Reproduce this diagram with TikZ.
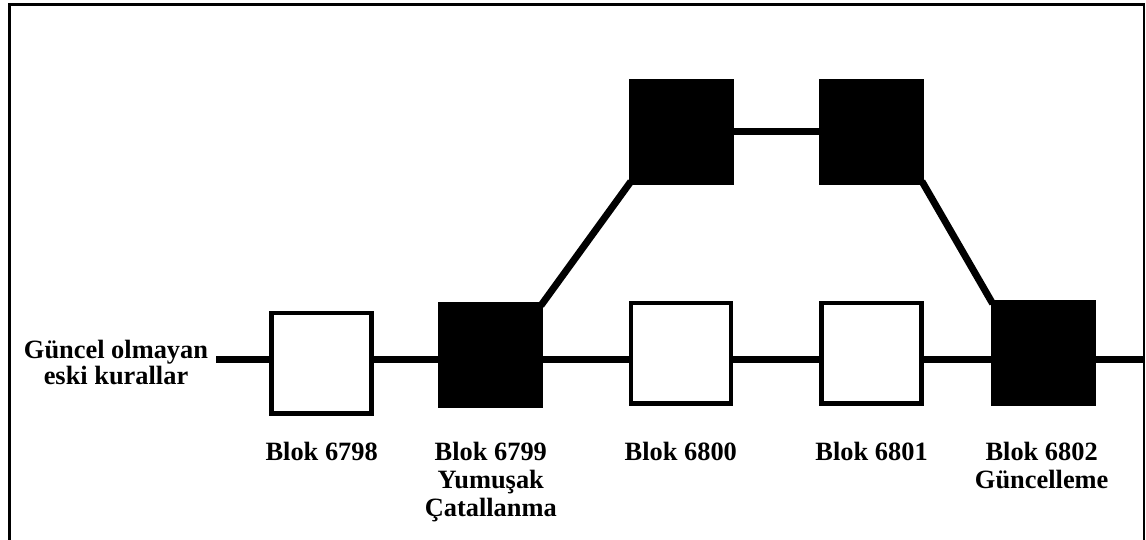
\documentclass[tikz,border=0pt]{standalone}
\usepackage{fontspec}
\setmainfont{Liberation Serif}
\usetikzlibrary{backgrounds}
\begin{document}
\begin{tikzpicture}[x=1pt,y=-1pt,
  whiteblock/.style={draw=black, line width=4.5pt, fill=white,
    minimum width=100pt, minimum height=100.5pt, inner sep=0pt, outer sep=0pt},
  blackblock/.style={fill=black, draw=none,
    minimum width=105pt, minimum height=105.5pt, inner sep=0pt, outer sep=0pt},
  link/.style={line width=7pt, shorten <=-4pt, shorten >=-4pt},
  lbl/.style={font=\fontsize{26.4}{28}\selectfont\bfseries, align=center,
    inner sep=0pt, anchor=north},
  frameline/.style={line width=2.4pt}]
\useasboundingbox (0,0) rectangle (1146,540);

% outer frame (open at the bottom)
\draw[frameline] (9.5,545) -- (9.5,4.5) -- (1144,4.5) -- (1144,545);

% main chain
\node[whiteblock] (b6798) at (321.7,363.3) {};
\node[blackblock] (b6799) at (490.8,355) {};
\node[whiteblock] (b6800) at (680.8,353.3) {};
\node[whiteblock] (b6801) at (871.6,353.2) {};
\node[blackblock] (b6802) at (1043.2,353) {};

% upper branch
\node[blackblock] (t6800) at (681,132) {};
\node[blackblock] (t6801) at (871.4,132) {};

\coordinate (old)  at (216,359.5);
\coordinate (tail) at (1144,359.5);

\begin{pgfonlayer}{background}
  \draw[link, shorten <=0pt] (old) -- (old -| b6798.center);
  \draw[link] (old -| b6798.center) -- (old -| b6799.center);
  \draw[link] (old -| b6799.center) -- (old -| b6800.center);
  \draw[link] (old -| b6800.center) -- (old -| b6801.center);
  \draw[link] (old -| b6801.center) -- (old -| b6802.center);
  \draw[link, shorten >=0pt] (old -| b6802.center) -- (tail);
  \draw[link] (b6799.north east) -- (t6800.south west);
  \draw[link] (t6800) -- (t6801);
  \draw[link] (t6801.south east) -- (b6802.north west);
\end{pgfonlayer}

% labels
\node[lbl, font=\fontsize{26.4}{26}\selectfont\bfseries] (lold) at (116,339.5)
  {Güncel olmayan\\eski kurallar};
\node[lbl] (l6798) at (321.7,442) {Blok 6798};
\node[lbl] (l6799) at (490.8,442) {Blok 6799\\Yumuşak\\Çatallanma};
\node[lbl] (l6800) at (680.8,442) {Blok 6800};
\node[lbl] (l6801) at (871.6,442) {Blok 6801};
\node[lbl] (l6802) at (1041.7,442) {Blok 6802\\Güncelleme};
\end{tikzpicture}
\end{document}
